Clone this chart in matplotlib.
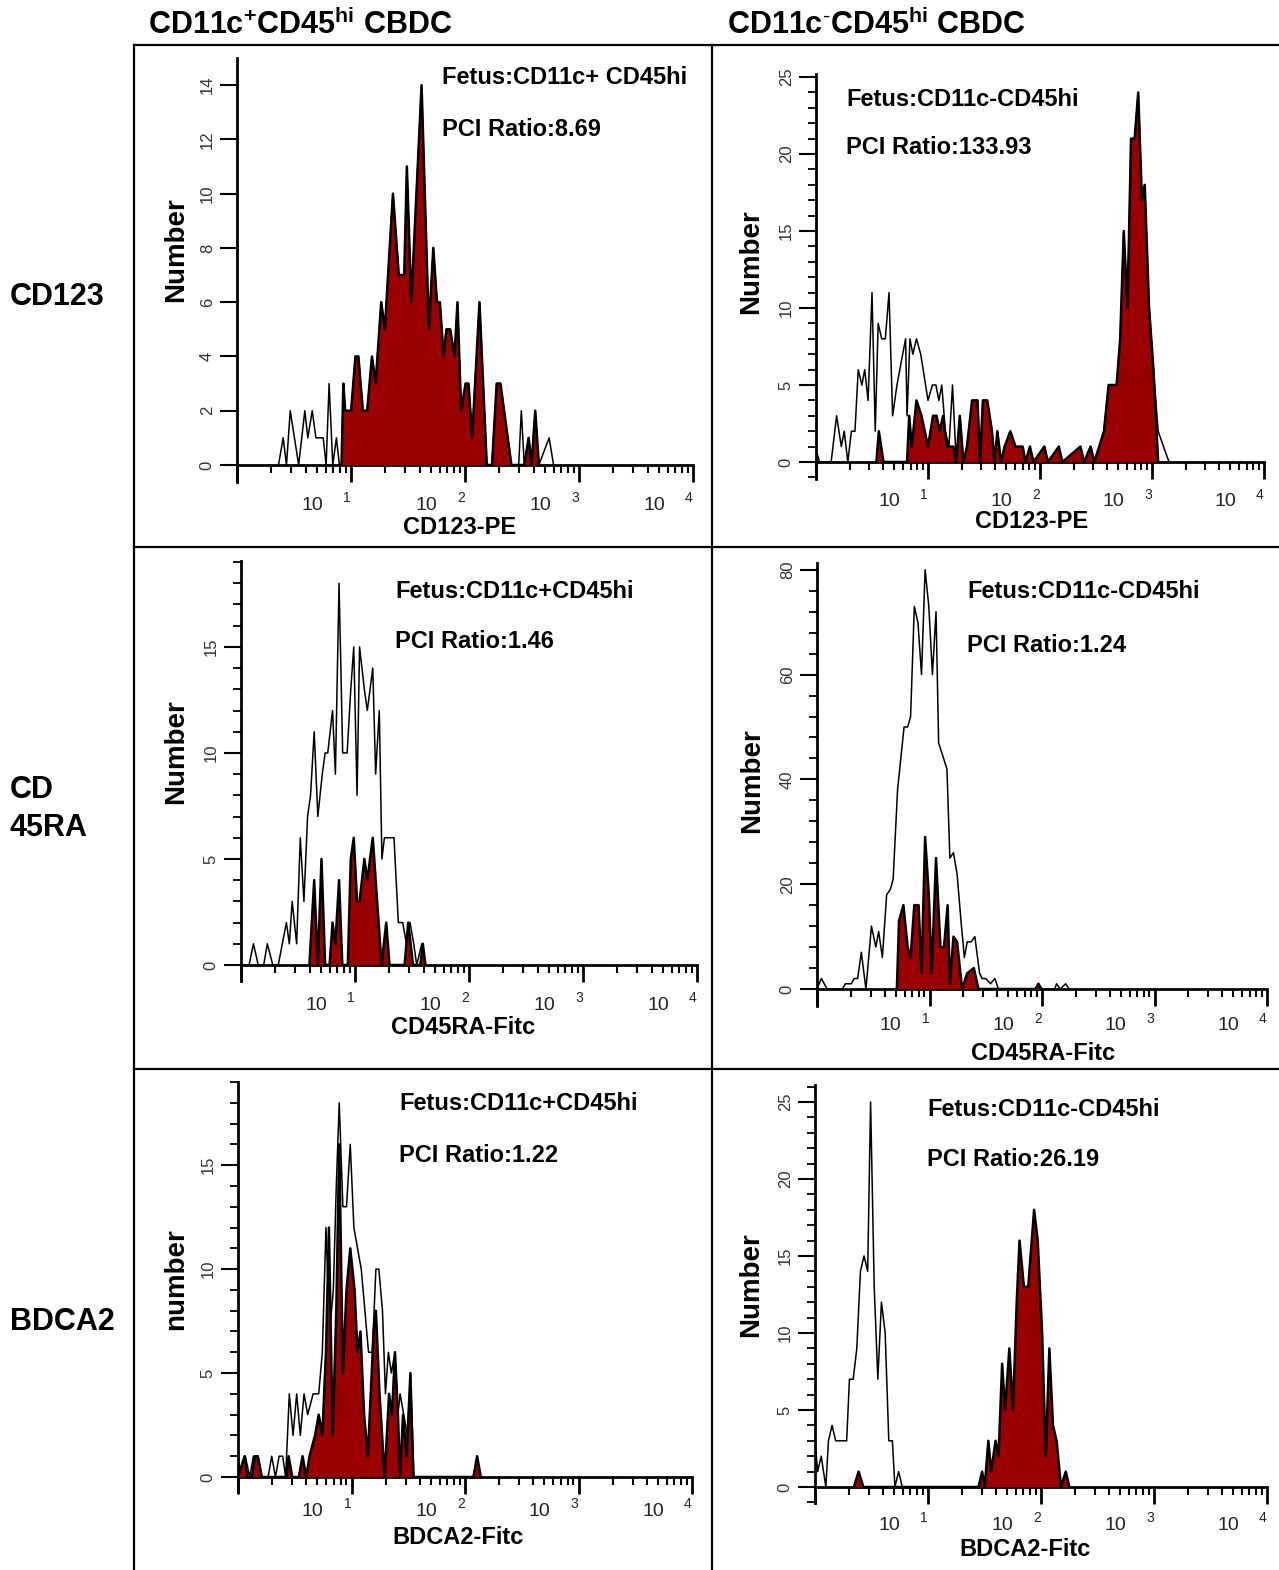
import numpy as np
import matplotlib.pyplot as plt
from matplotlib.lines import Line2D
from matplotlib.ticker import LogLocator, MultipleLocator, NullFormatter, NullLocator

plt.rcParams['font.family'] = ['Liberation Sans', 'DejaVu Sans']
plt.rcParams['mathtext.fontset'] = 'custom'
plt.rcParams['mathtext.rm'] = 'Liberation Sans'
plt.rcParams['mathtext.bf'] = 'Liberation Sans:bold'

# --- datos (posiciones x en decadas log10, y en numero de eventos) ---
col_titles = [r'CD11c$^{\mathbf{+}}$CD45$^{\mathbf{hi}}$ CBDC',
              r'CD11c$^{\mathbf{\text{-}}}$CD45$^{\mathbf{hi}}$ CBDC']
row_labels = ['CD123', 'CD', '45RA', 'BDCA2']
x_labels = ['CD123-PE', 'CD123-PE', 'CD45RA-Fitc', 'CD45RA-Fitc', 'BDCA2-Fitc', 'BDCA2-Fitc']
y_labels = ['Number', 'Number', 'Number', 'Number', 'number', 'Number']
notes = [('Fetus:CD11c+ CD45hi', 'PCI Ratio:8.69'),
         ('Fetus:CD11c-CD45hi', 'PCI Ratio:133.93'),
         ('Fetus:CD11c+CD45hi', 'PCI Ratio:1.46'),
         ('Fetus:CD11c-CD45hi', 'PCI Ratio:1.24'),
         ('Fetus:CD11c+CD45hi', 'PCI Ratio:1.22'),
         ('Fetus:CD11c-CD45hi', 'PCI Ratio:26.19')]
y_max = [15.0, 25.2, 19.05, 81.3, 19.0, 26.1]
y_major = [2, 5, 5, 20, 5, 5]
y_minor = [None, 1, 1, 4, 1, 1]

# CD123, CD11c+
p1_out_dec = [0.364, 0.405, 0.434, 0.467, 0.541, 0.595, 0.621, 0.660, 0.692, 0.756, 0.782, 0.808,
              0.840, 0.872, 0.898, 0.917, 0.933, 0.949, 1.001, 1.039, 1.065, 1.104, 1.142, 1.184,
              1.216, 1.265, 1.297, 1.368, 1.419, 1.467, 1.490, 1.529, 1.619, 1.683, 1.722, 1.754,
              1.780, 1.812, 1.837, 1.870, 1.908, 1.934, 1.966, 2.005, 2.031, 2.063, 2.127, 2.191,
              2.237, 2.278, 2.311, 2.375, 2.407, 2.471, 2.494, 2.520, 2.558, 2.584, 2.616, 2.648,
              2.738, 2.777]
p1_out_cnt = [0, 1, 0, 2, 0, 2, 1, 2, 1, 1, 0, 3,
              0, 1, 0, 0, 3, 2, 2, 4, 4, 2, 2, 4,
              3, 6, 5, 10, 7, 7, 11, 6, 14, 5, 8, 6,
              6, 4, 5, 5, 4, 6, 2, 3, 3, 1, 6, 0,
              0, 3, 3, 1, 0, 0, 2, 0, 1, 0, 2, 0,
              1, 0]
p1_fill_dec = [0.917, 0.933, 0.949, 1.001, 1.039, 1.065, 1.104, 1.142, 1.184, 1.216, 1.265, 1.297,
               1.368, 1.419, 1.467, 1.490, 1.529, 1.619, 1.683, 1.722, 1.754, 1.780, 1.812, 1.837,
               1.870, 1.908, 1.934, 1.966, 2.005, 2.031, 2.063, 2.127, 2.191, 2.237, 2.278, 2.311,
               2.375, 2.407, 2.520, 2.558, 2.584, 2.616, 2.648]
p1_fill_cnt = [0, 3, 2, 2, 4, 4, 2, 2, 4, 3, 6, 5,
               10, 7, 7, 11, 6, 14, 5, 8, 6, 6, 4, 5,
               5, 4, 6, 2, 3, 3, 1, 6, 0, 0, 3, 3,
               1, 0, 0, 1, 0, 2, 0]

# CD123, CD11c-
p2_out_dec = [0.000, 0.032, 0.135, 0.184, 0.226, 0.252, 0.284, 0.316, 0.348, 0.377, 0.410, 0.435,
              0.465, 0.500, 0.529, 0.555, 0.587, 0.619, 0.652, 0.684, 0.723, 0.774, 0.800, 0.813,
              0.839, 0.865, 0.897, 0.935, 1.000, 1.039, 1.071, 1.097, 1.123, 1.155, 1.187, 1.219,
              1.252, 1.284, 1.316, 1.348, 1.394, 1.442, 1.465, 1.490, 1.529, 1.571, 1.594, 1.619,
              1.652, 1.684, 1.735, 1.781, 1.845, 1.871, 1.910, 1.942, 2.039, 2.071, 2.168, 2.200,
              2.361, 2.394, 2.452, 2.484, 2.529, 2.571, 2.613, 2.684, 2.716, 2.748, 2.781, 2.813,
              2.845, 2.877, 2.910, 2.935, 2.974, 3.013, 3.055, 3.103, 3.152]
p2_out_cnt = [0.8, 0, 0, 3, 1, 2, 0, 2, 2, 6, 5, 6,
              4, 11, 2, 9, 8, 8, 11, 3, 5, 7, 8, 3,
              8, 7, 8, 7, 4, 5, 5, 4, 5, 2, 1, 5,
              0, 3, 0, 1, 4, 4, 0, 4, 4, 2, 0, 2,
              0, 1, 2, 1, 1, 0, 1, 0, 1, 0, 1, 0,
              1, 0, 1, 0, 1, 2, 5, 5, 8, 15, 10, 21,
              21, 24, 17, 18, 10, 6, 2, 1, 0]
p2_fill_dec = [0.539, 0.561, 0.603, 0.813, 0.832, 0.855, 0.897, 0.942, 1.000, 1.045, 1.077, 1.103,
               1.135, 1.168, 1.226, 1.252, 1.284, 1.316, 1.348, 1.394, 1.442, 1.465, 1.490, 1.529,
               1.571, 1.594, 1.619, 1.652, 1.684, 1.735, 1.781, 1.845, 1.871, 1.910, 1.942, 2.039,
               2.071, 2.168, 2.200, 2.361, 2.394, 2.452, 2.484, 2.529, 2.571, 2.613, 2.684, 2.716,
               2.748, 2.781, 2.813, 2.845, 2.877, 2.910, 2.935, 2.974, 3.013, 3.055]
p2_fill_cnt = [0, 2, 0, 0, 3, 1, 4, 3, 1, 3, 3, 2,
               3, 1, 1, 0, 3, 0, 1, 4, 4, 0, 4, 4,
               2, 0, 2, 0, 1, 2, 1, 1, 0, 1, 0, 1,
               0, 1, 0, 1, 0, 1, 0, 1, 2, 5, 5, 8,
               15, 10, 21, 21, 24, 17, 18, 10, 6, 0]

# CD45RA, CD11c+
p3_out_dec = [0.000, 0.071, 0.109, 0.151, 0.199, 0.231, 0.279, 0.327, 0.398, 0.424, 0.449, 0.488,
              0.520, 0.552, 0.584, 0.610, 0.642, 0.674, 0.713, 0.738, 0.761, 0.803, 0.828, 0.860,
              0.892, 0.931, 0.963, 0.989, 1.018, 1.040, 1.082, 1.108, 1.156, 1.181, 1.213, 1.236,
              1.258, 1.342, 1.380, 1.419, 1.451, 1.483, 1.515, 1.541, 1.586, 1.612]
p3_out_cnt = [0, 0, 1, 0, 0, 1, 0, 0, 2, 1, 3, 1,
              6, 3, 7, 8, 11, 7, 9, 10, 10, 12, 9, 18,
              10, 10, 13, 15, 8, 15, 13, 12, 14, 9, 12, 5,
              6, 6, 2, 2, 1, 2, 1, 0, 1, 0]
p3_fill_dec = [0.600, 0.642, 0.674, 0.706, 0.738, 0.777, 0.803, 0.828, 0.860, 0.889, 0.937, 0.963,
               0.989, 1.018, 1.040, 1.082, 1.108, 1.156, 1.194, 1.233, 1.274, 1.303, 1.435, 1.467,
               1.509, 1.573, 1.595, 1.618]
p3_fill_cnt = [0, 4, 0, 5, 0, 0, 2, 1, 4, 0, 0, 5,
               6, 3, 3, 5, 4, 6, 3, 0, 2, 0, 0, 2,
               0, 0, 1, 0]

# CD45RA, CD11c-
p4_out_dec = [0.000, 0.039, 0.090, 0.226, 0.252, 0.306, 0.329, 0.361, 0.394, 0.435, 0.484, 0.523,
              0.548, 0.581, 0.619, 0.652, 0.677, 0.716, 0.774, 0.806, 0.832, 0.865, 0.897, 0.929,
              0.961, 0.994, 1.026, 1.058, 1.081, 1.155, 1.181, 1.213, 1.245, 1.284, 1.310, 1.335,
              1.371, 1.403, 1.445, 1.468, 1.500, 1.542, 1.581, 1.613, 1.935, 1.968, 2.000, 2.113,
              2.129, 2.161, 2.210, 2.242]
p4_out_cnt = [0, 2, 0, 0, 1, 1, 2, 2, 7, 0, 12, 8,
              11, 6, 18, 19, 21, 38, 50, 50, 52, 73, 70, 60,
              80, 73, 60, 72, 47, 42, 25, 26, 22, 12, 6, 9,
              9, 10, 3, 2, 2, 1, 2, 0, 0, 1, 0, 0,
              1, 0, 1, 0]
p4_fill_dec = [0.710, 0.729, 0.768, 0.806, 0.832, 0.865, 0.903, 0.929, 0.961, 0.994, 1.019, 1.058,
               1.097, 1.129, 1.161, 1.181, 1.213, 1.245, 1.290, 1.335, 1.394, 1.435, 1.945, 1.968,
               1.994]
p4_fill_cnt = [0, 13, 16, 8, 6, 16, 16, 3, 29, 18, 3, 25,
               8, 8, 16, 1, 10, 9, 0, 3, 4, 0, 0, 1,
               0]

# BDCA2, CD11c+
p5_out_dec = [0.000, 0.026, 0.065, 0.103, 0.136, 0.178, 0.210, 0.265, 0.297, 0.330, 0.362, 0.394,
              0.420, 0.452, 0.485, 0.517, 0.549, 0.582, 0.614, 0.662, 0.711, 0.743, 0.775, 0.808,
              0.840, 0.866, 0.892, 0.924, 0.956, 0.989, 1.021, 1.053, 1.086, 1.118, 1.150, 1.183,
              1.215, 1.241, 1.273, 1.299, 1.325, 1.351, 1.383, 1.409, 1.428, 1.460, 1.493, 1.519,
              1.551]
p5_out_cnt = [1, 0, 1, 0, 1, 1, 0, 0, 1, 0, 1, 1,
              0, 4, 2, 4, 2, 4, 3, 4, 4, 6, 12, 7,
              9, 14, 18, 13, 13, 16, 12, 11, 10, 8, 6, 6,
              10, 10, 8, 4, 6, 5, 6, 3, 4, 3, 2, 5,
              0]
p5_fill_dec = [0.000, 0.058, 0.084, 0.123, 0.149, 0.174, 0.210, 0.426, 0.446, 0.478, 0.536, 0.569,
               0.601, 0.630, 0.679, 0.711, 0.743, 0.775, 0.801, 0.834, 0.866, 0.892, 0.924, 0.956,
               0.989, 1.027, 1.053, 1.079, 1.111, 1.144, 1.195, 1.215, 1.247, 1.292, 1.331, 1.357,
               1.383, 1.409, 1.428, 1.454, 1.486, 1.519, 1.544, 2.074, 2.107, 2.139]
p5_fill_cnt = [0, 1, 0, 0, 1, 1, 0, 0, 1, 0, 0, 1,
               0, 1, 2, 3, 2, 6, 12, 2, 8, 16, 5, 9,
               11, 9, 6, 7, 3, 1, 7, 8, 4, 0, 4, 3,
               6, 3, 0, 3, 1, 5, 0, 0, 1, 0]

# BDCA2, CD11c-
p6_out_dec = [0.000, 0.023, 0.055, 0.096, 0.119, 0.151, 0.183, 0.280, 0.305, 0.338, 0.370, 0.402,
              0.434, 0.466, 0.492, 0.524, 0.556, 0.588, 0.621, 0.653, 0.685, 0.707, 0.740, 0.772]
p6_out_cnt = [3, 1, 2, 0, 3, 4, 3, 3, 7, 7, 9, 14,
              15, 14, 25, 13, 7, 12, 10, 3, 3, 0, 1, 0]
p6_fill_dec = [0.344, 0.386, 0.428, 1.447, 1.479, 1.502, 1.534, 1.559, 1.598, 1.624, 1.656, 1.682,
               1.720, 1.752, 1.785, 1.810, 1.849, 1.887, 1.939, 1.971, 2.010, 2.042, 2.074, 2.106,
               2.138, 2.177, 2.219, 2.251]
p6_fill_cnt = [0, 1, 0, 0, 1, 0, 3, 1, 3, 2, 8, 5,
               9, 5, 12, 16, 13, 13, 18, 16, 10, 2, 9, 4,
               3, 0, 1, 0]

series = [(p1_out_dec, p1_out_cnt, p1_fill_dec, p1_fill_cnt),
          (p2_out_dec, p2_out_cnt, p2_fill_dec, p2_fill_cnt),
          (p3_out_dec, p3_out_cnt, p3_fill_dec, p3_fill_cnt),
          (p4_out_dec, p4_out_cnt, p4_fill_dec, p4_fill_cnt),
          (p5_out_dec, p5_out_cnt, p5_fill_dec, p5_fill_cnt),
          (p6_out_dec, p6_out_cnt, p6_fill_dec, p6_fill_cnt)]

# --- layout en pixeles de la figura ---
W, H = 1279, 1570
RED = '#9b0000'
# left, right, top, base(y=0), bottom of the axis line
boxes = [(237, 693, 58, 465, 482), (816, 1264, 74, 462, 479),
         (241, 697, 561, 965, 981), (817, 1267, 563, 989, 1006),
         (238, 692, 1082, 1477, 1492), (815, 1267, 1085, 1487, 1503)]
dec_off = [40, 40, 40, 37, 34, 38]   # px bajo la linea base para "10"
note_pos = [(442, 78, 130), (846, 100, 148), (395, 591, 641),
            (967, 591, 646), (399, 1103, 1155), (927, 1110, 1160)]
ylab_pos = [(176, 250), (751, 262), (176, 752), (752, 781), (176, 1279), (751, 1285)]
xlab_pos = [(460, 528), (1032, 522), (463, 1027), (1043, 1053), (458, 1537), (1025, 1549)]


def fx(px):
    return px / W


def fy(py):
    return 1 - py / H


fig = plt.figure(figsize=(W / 100, H / 100), dpi=100)

for i in range(6):
    left, right, top, base, bottom = boxes[i]
    ax = fig.add_axes([fx(left), fy(bottom), (right - left) / W, (bottom - top) / H])
    ymax = y_max[i]
    ymin = -ymax * (bottom - base) / (base - top)
    od, oc, fd, fc = series[i]
    ax.plot(10 ** np.array(od), oc, color='black', lw=1.1, zorder=2)
    ax.fill_between(10 ** np.array(fd), fc, 0, color=RED, lw=0, zorder=3)
    ax.plot(10 ** np.array(fd), fc, color='black', lw=1.8, zorder=4)

    ax.set_xscale('log')
    ax.set_xlim(1, 1e4)
    ax.set_ylim(ymin, ymax)
    ax.spines['top'].set_visible(False)
    ax.spines['right'].set_visible(False)
    ax.spines['bottom'].set_position(('data', 0))
    ax.spines['left'].set_linewidth(2)
    ax.spines['bottom'].set_linewidth(2)

    ax.xaxis.set_major_locator(LogLocator(base=10, numticks=10))
    ax.xaxis.set_minor_locator(LogLocator(base=10, subs=np.arange(2, 10), numticks=20))
    ax.xaxis.set_major_formatter(NullFormatter())
    ax.xaxis.set_minor_formatter(NullFormatter())
    ax.tick_params(axis='x', which='major', direction='out', length=12, width=2)
    ax.tick_params(axis='x', which='minor', direction='out', length=6, width=1.5)

    ax.yaxis.set_major_locator(MultipleLocator(y_major[i]))
    if y_minor[i]:
        ax.yaxis.set_minor_locator(MultipleLocator(y_minor[i]))
    else:
        ax.yaxis.set_minor_locator(NullLocator())
    ax.tick_params(axis='y', which='major', direction='out', length=12, width=1.5,
                   labelsize=12, labelcolor='#333333', labelrotation=90, pad=4)
    ax.tick_params(axis='y', which='minor', direction='out', length=6, width=1.3)
    for lbl in ax.get_yticklabels():
        lbl.set_va('center')

    off = dec_off[i] * 0.72
    for d in range(1, 5):
        ax.annotate('10', xy=(10 ** d, 0), xycoords='data', xytext=(-28, -off),
                    textcoords='offset points', ha='center', va='center',
                    fontsize=14, color='#222222')
        ax.annotate(str(d), xy=(10 ** d, 0), xycoords='data', xytext=(-3, -off + 5),
                    textcoords='offset points', ha='center', va='center',
                    fontsize=10, color='#222222')

    nx, ny1, ny2 = note_pos[i]
    fig.text(fx(nx), fy(ny1), notes[i][0], fontsize=17, fontweight='bold', va='center')
    fig.text(fx(nx), fy(ny2), notes[i][1], fontsize=17, fontweight='bold', va='center')
    lx, ly = ylab_pos[i]
    fig.text(fx(lx), fy(ly), y_labels[i], fontsize=20, fontweight='bold',
             rotation=90, ha='center', va='center')
    xx, xy = xlab_pos[i]
    fig.text(fx(xx), fy(xy), x_labels[i], fontsize=17, fontweight='bold',
             ha='center', va='center')

# --- tabla ---
lw_t = 1.6
for yy in [45, 547, 1069]:
    fig.add_artist(Line2D([fx(134), fx(1279)], [fy(yy), fy(yy)], color='black', lw=lw_t))
for xx in [134, 712]:
    fig.add_artist(Line2D([fx(xx), fx(xx)], [fy(45), fy(1570)], color='black', lw=lw_t))

fig.text(fx(148), fy(25), col_titles[0], fontsize=22, fontweight='bold', va='center')
fig.text(fx(727), fy(25), col_titles[1], fontsize=22, fontweight='bold', va='center')

row_y = [297, 790, 828, 1322]
for lab, yy in zip(row_labels, row_y):
    fig.text(fx(10), fy(yy), lab, fontsize=22, fontweight='bold', va='center')

fig.savefig('out.png', dpi=100)
